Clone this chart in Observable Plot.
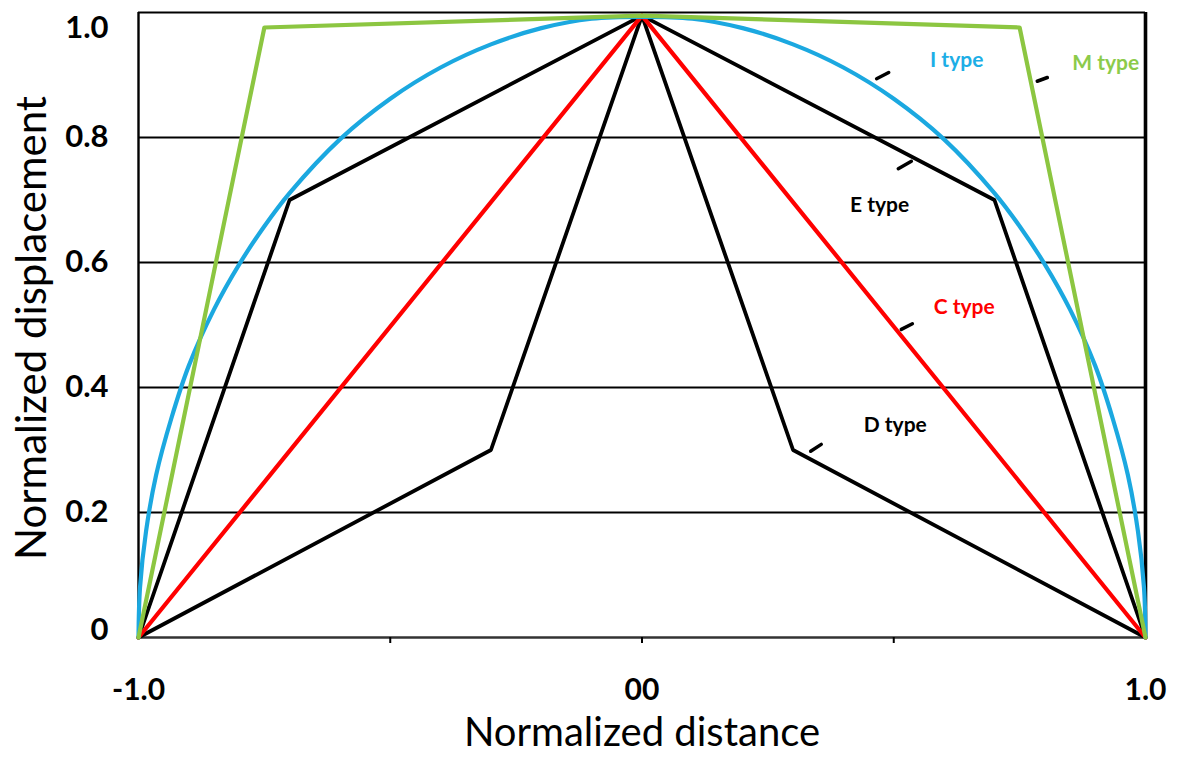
<!DOCTYPE html>
<html>
<head>
<meta charset="utf-8">
<script src="https://cdn.jsdelivr.net/npm/d3@7"></script>
<script src="https://cdn.jsdelivr.net/npm/@observablehq/plot@0.6"></script>
<style>
  html, body { margin: 0; padding: 0; background: #fff; }
  #chart svg { display: block; }
</style>
</head>
<body>
<div id="chart"></div>
<script>
// ---- data ----
const xTickValues = [-1, 0, 1];
const xTickLabels = ["-1.0", "00", "1.0"];
const xMinorTicks = [-0.5, 0, 0.5];
const yTickValues = [0, 0.2, 0.4, 0.6, 0.8, 1.0];
const yTickLabels = ["0", "0.2", "0.4", "0.6", "0.8", "1.0"];
const gridValues = [0.2, 0.4, 0.6, 0.8, 1.0];

const xTitle = "Normalized distance";
const yTitle = "Normalized displacement";

// M type (green)
const mX = [-1, -0.75, 0, 0.75, 1];
const mY = [0, 0.976, 0.995, 0.976, 0];
// I type (blue)
const iX = [-1, -0.997, -0.985, -0.965, -0.935, -0.9, -0.85, -0.8, -0.75, -0.7, -0.6, -0.5, -0.4, -0.3, -0.2, -0.1, 0,
            0.1, 0.2, 0.3, 0.4, 0.5, 0.6, 0.7, 0.75, 0.8, 0.85, 0.9, 0.935, 0.965, 0.985, 0.997, 1];
const iY = [0, 0.08, 0.17, 0.26, 0.35, 0.435, 0.525, 0.597, 0.658, 0.711, 0.797, 0.862, 0.912, 0.949, 0.975, 0.99, 0.993,
            0.99, 0.975, 0.949, 0.912, 0.862, 0.797, 0.711, 0.658, 0.597, 0.525, 0.435, 0.35, 0.26, 0.17, 0.08, 0];
// C type (red)
const cX = [-1, 0, 1];
const cY = [0, 0.995, 0];
// E type (black)
const eX = [-1, -0.70, 0, 0.70, 1];
const eY = [0, 0.70, 0.995, 0.70, 0];
// D type (black)
const dX = [-1, -0.30, 0, 0.30, 1];
const dY = [0, 0.30, 0.995, 0.30, 0];

// series labels
const labelText = ["I type", "M type", "E type", "C type", "D type"];
const labelX = [0.625, 0.921, 0.472, 0.640, 0.503];
const labelY = [0.923, 0.918, 0.691, 0.528, 0.339];
const labelColor = ["#1DAEE6", "#8CCB4A", "#000000", "#FF0000", "#000000"];

// small pointer strokes near labels
const ptrX1 = [0.466, 0.785, 0.509, 0.515, 0.335];
const ptrY1 = [0.894, 0.890, 0.750, 0.493, 0.298];
const ptrX2 = [0.490, 0.805, 0.535, 0.537, 0.356];
const ptrY2 = [0.904, 0.896, 0.762, 0.502, 0.309];

// ---- build tables ----
const toPts = (xs, ys) => xs.map((x, i) => ({x, y: ys[i]}));
const mPts = toPts(mX, mY), iPts = toPts(iX, iY), cPts = toPts(cX, cY),
      ePts = toPts(eX, eY), dPts = toPts(dX, dY);
const labels = labelText.map((t, i) => ({t, x: labelX[i], y: labelY[i], c: labelColor[i]}));
const pointers = ptrX1.map((x1, i) => ({x1, y1: ptrY1[i], x2: ptrX2[i], y2: ptrY2[i]}));
const yTicks = yTickValues.map((v, i) => ({v, s: yTickLabels[i], i}));
const xTicks = xTickValues.map((v, i) => ({v, s: xTickLabels[i]}));

const FONT = "Lato, 'Open Sans', sans-serif";

const chart = Plot.plot({
  width: 1186,
  height: 762,
  marginLeft: 138,
  marginRight: 41,
  marginTop: 12,
  marginBottom: 125,
  style: {fontFamily: FONT, background: "#fff", overflow: "visible"},
  x: {domain: [-1, 1], axis: null},
  y: {domain: [0, 1], axis: null},
  marks: [
    // grid & frame
    Plot.ruleY(gridValues, {stroke: "#000", strokeWidth: 2.2}),
    Plot.ruleY([0], {stroke: "#333", strokeWidth: 2.6}),
    Plot.ruleX([-1], {stroke: "#000", strokeWidth: 2.4}),
    Plot.ruleX([1], {stroke: "#000", strokeWidth: 3.6}),
    Plot.axisX({ticks: xMinorTicks, tickSize: 6, tickFormat: () => "", stroke: "#000", strokeWidth: 2, label: null}),

    // curves
    Plot.line(dPts, {x: "x", y: "y", stroke: "#000", strokeWidth: 3.8}),
    Plot.line(ePts, {x: "x", y: "y", stroke: "#000", strokeWidth: 3.8}),
    Plot.line(cPts, {x: "x", y: "y", stroke: "#FF0000", strokeWidth: 4.2}),
    Plot.line(iPts, {x: "x", y: "y", stroke: "#1BA8E0", strokeWidth: 4.2, curve: "catmull-rom"}),
    Plot.line(mPts, {x: "x", y: "y", stroke: "#8CC641", strokeWidth: 4.2}),

    // pointers
    Plot.link(pointers, {x1: "x1", y1: "y1", x2: "x2", y2: "y2", stroke: "#000", strokeWidth: 3.5, strokeLinecap: "round"}),

    // series labels
    Plot.text(labels, {x: "x", y: "y", text: "t", fill: "c", fontSize: 21, fontWeight: "bold"}),

    // y tick labels
    Plot.text(yTicks.filter(d => d.i > 0 && d.i < 5), {x: -1, y: "v", text: "s", textAnchor: "end", dx: -30, fontSize: 31, fontWeight: "bold", fill: "#000"}),
    Plot.text(yTicks.filter(d => d.i === 0), {x: -1, y: "v", text: "s", textAnchor: "end", dx: -30, dy: -7, fontSize: 31, fontWeight: "bold", fill: "#000"}),
    Plot.text(yTicks.filter(d => d.i === 5), {x: -1, y: "v", text: "s", textAnchor: "end", dx: -30, dy: 16, fontSize: 31, fontWeight: "bold", fill: "#000"}),

    // x tick labels
    Plot.text(xTicks, {x: "v", y: 0, text: "s", dy: 53, fontSize: 30, fontWeight: "bold", fill: "#000"}),

    // axis titles
    Plot.text([xTitle], {frameAnchor: "bottom", text: d => d, dy: 108, fontSize: 40, fill: "#000"}),
    Plot.text([yTitle], {frameAnchor: "left", textAnchor: "middle", text: d => d, rotate: -90, dx: -106, dy: 3, fontSize: 42, fill: "#000"})
  ]
});

document.getElementById("chart").appendChild(chart);
</script>
</body>
</html>
